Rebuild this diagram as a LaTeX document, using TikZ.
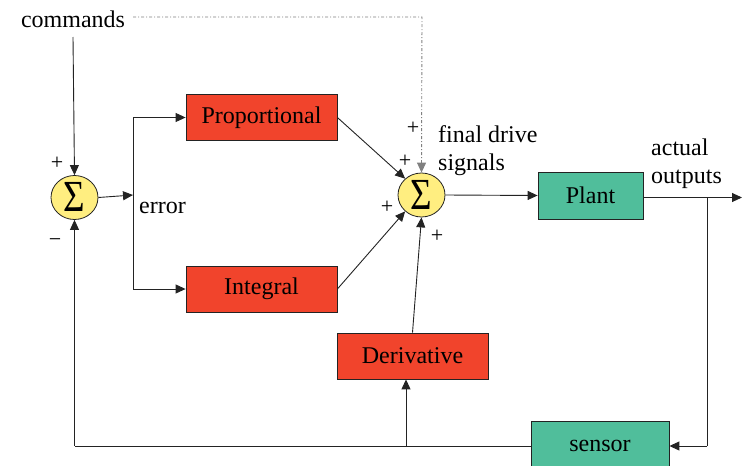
\documentclass[tikz,border=0pt]{standalone}
\usepackage{fontspec}
\setmainfont{Liberation Serif}
\usetikzlibrary{arrows.meta,shapes.geometric}
\definecolor{pidred}{RGB}{241,68,44}
\definecolor{pidgreen}{RGB}{80,190,155}
\definecolor{sumyellow}{RGB}{255,238,128}
\definecolor{wire}{RGB}{35,35,35}
\tikzset{
  lbl/.style={font=\fontsize{24}{28}\selectfont, inner sep=0pt, align=left},
  sgn/.style={font=\fontsize{22}{24}\selectfont, inner sep=0pt},
  block/.style={draw=wire, line width=0.8pt, minimum width=151pt, minimum height=46pt,
    inner sep=0pt, font=\fontsize{24}{28}\selectfont},
  ctrl/.style={block, fill=pidred},
  proc/.style={block, fill=pidgreen},
  summer/.style={ellipse, draw=wire, line width=0.8pt, fill=sumyellow,
    minimum width=47pt, minimum height=44pt, inner sep=0pt},
  wirel/.style={draw=wire, line width=0.9pt},
  arr/.style={wirel, -{Triangle[length=10pt,width=9pt]}},
  ffwd/.style={draw=gray, line width=0.9pt, dash pattern=on 3pt off 2pt on 1pt off 2pt,
    -{Triangle[length=10pt,width=9pt]}}
}
\newcommand{\sumglyph}{\raisebox{1pt}{\scalebox{1}[1.2]{\fontsize{37}{37}\selectfont Σ}}}
\begin{document}
\begin{tikzpicture}[x=1pt,y=-1pt]
\path[use as bounding box] (0,0) rectangle (742,466);
\clip (0,0) rectangle (742,466);

% blocks
\node[summer] (s1) at (74.5,197.5) {\sumglyph};
\node[summer] (s2) at (421.5,195) {\sumglyph};
\node[ctrl] (prop) at (261.5,117.5) {Proportional};
\node[ctrl] (int) at (261.5,289) {Integral};
\node[ctrl] (der) at (412.5,356) {Derivative};
\node[proc, minimum width=105pt, minimum height=47pt] (plant) at (590.5,195.5) {Plant};
\node[proc, minimum width=138pt, minimum height=50pt] (sensor) at (600,446) {sensor};

% labels
\node[lbl] (cmd) at (73,19) {commands};
\node[lbl, anchor=west] (err) at (139,208) {error};
\node[lbl, anchor=west] (fds) at (438,151) {final drive\\signals};
\node[lbl, anchor=west] (act) at (651,164) {actual\\outputs};

% signs at the summing junctions
\node[sgn] (p1) at (57,163) {+};
\node[sgn] (m1) at (55,243) {−};
\node[sgn] (p2) at (413,128) {+};
\node[sgn] (p3) at (405,161) {+};
\node[sgn] (p4) at (387,207) {+};
\node[sgn] (p5) at (437,236) {+};

% junction points
\coordinate (split) at (133,195);
\coordinate (ff) at (422,17);
\coordinate (tap) at (707,197.5);
\coordinate (out) at (742,197.5);
\coordinate (fbl) at (74.5,446);
\coordinate (fbd) at (406,446);

% reference path and error split
\draw[arr] (cmd.south |- 0,37) -- (s1.north);
\draw[arr] (s1.east) -- (split);
\draw[wirel] (split) -- (133,117.5);
\draw[wirel] (split) -- (133,289);
\draw[arr] (133,117.5) -- (prop.west);
\draw[arr] (133,289) -- (int.west);

% feed-forward of the commands
\draw[ffwd] (cmd.east) ++(8,-2) -- (ff) -- (s2.north);

% controller terms into the second summer
\draw[arr] (prop.east) -- (s2.135);
\draw[arr] (int.east) -- (s2.225);
\draw[arr] (der.north) -- (s2.south);

% plant and outputs
\draw[arr] (s2.east) -- (plant.west);
\draw[arr] (plant.east |- out) -- (out);
\draw[wirel] (tap) -- (tap |- sensor.east);
\draw[arr] (tap |- sensor.east) -- (sensor.east);

% feedback
\draw[wirel] (sensor.west) -- (fbl);
\draw[arr] (fbl) -- (s1.south);
\draw[arr] (fbd) -- (fbd |- der.south);
\end{tikzpicture}
\end{document}
